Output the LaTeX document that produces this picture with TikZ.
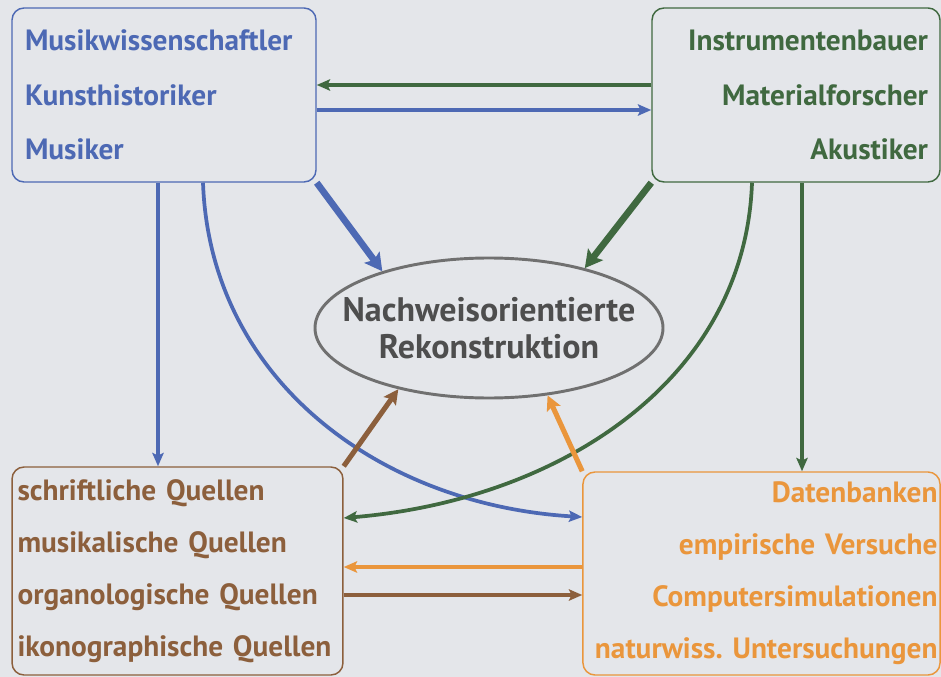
\documentclass[tikz,border=0pt]{standalone}
\usepackage{fontspec}
\setmainfont{PT Sans}[WordSpace=0.75]
\usetikzlibrary{shapes.geometric, arrows.meta, positioning, calc}
\definecolor{mublue}{RGB}{77,105,180}
\definecolor{mugreen}{RGB}{64,105,64}
\definecolor{mubrown}{RGB}{140,95,60}
\definecolor{muorange}{RGB}{234,150,60}
\definecolor{mugray}{RGB}{112,112,112}
\definecolor{mutext}{RGB}{78,78,78}
\definecolor{paper}{RGB}{228,230,234}
\frenchspacing

\begin{document}
\begin{tikzpicture}[x=0.75pt, y=-0.75pt,
      gruppe/.style={draw=#1, text=#1, rectangle, rounded corners=9pt,
                     line width=1.1pt, inner ysep=0pt,
                     font=\fontsize{22}{41}\selectfont\bfseries},
      ziel/.style={draw=mugray, ellipse, line width=2.2pt, text=mutext,
                   minimum width=261pt, minimum height=105pt,
                   inner xsep=-20pt, inner ysep=0pt, align=center,
                   font=\fontsize{25.5}{27.75}\selectfont\bfseries},
      pfeil/.style={line width=2.8pt, -{Stealth[length=10pt, width=8.5pt, inset=2pt]}},
      quellpfeil/.style={line width=3.8pt, -{Stealth[length=11pt, width=11pt, inset=2pt]}},
      hauptpfeil/.style={line width=5pt, -{Stealth[length=13pt, width=14pt, inset=2.5pt]}}
    ]
    % Hintergrund
    \fill[paper] (0,0) rectangle (941,677);
    \useasboundingbox (0,0) rectangle (941,677);

    % Akteure oben
    \node[gruppe=mublue, text width=208.5pt, inner xsep=9.75pt,
          minimum height=130.5pt, align=left] (forscher) at (164,95)
          {Musikwissenschaftler\\Kunsthistoriker\\Musiker};
    \node[gruppe=mugreen, text width=198pt, inner xsep=9pt,
          minimum height=130.5pt, align=right] (bauer) at (796,95)
          {Instrumentenbauer\\Materialforscher\\Akustiker};

    % Quellen und Methoden unten
    \node[gruppe=mubrown, text width=240pt, inner xsep=4.1pt,
          minimum height=156pt, align=left,
          font=\fontsize{22}{39}\selectfont\bfseries] (quellen) at (177.5,571)
          {schriftliche Quellen\\musikalische Quellen\\organologische Quellen\\ikonographische Quellen};
    \node[gruppe=muorange, text width=264pt, inner xsep=1.9pt,
          minimum height=152.25pt, align=right,
          font=\fontsize{22}{39}\selectfont\bfseries] (methoden) at (761.5,573.5)
          {Datenbanken\\empirische Versuche\\Computersimulationen\\naturwiss. Untersuchungen};

    % Ziel in der Mitte
    \node[ziel] (rekon) at (489,328) {Nachweisorientierte\\Rekonstruktion};

    % Verbindungen zwischen den Gruppen
    \draw[pfeil, mugreen] (bauer.west |- 0,85) -- (forscher.east |- 0,85);
    \draw[pfeil, mublue] (forscher.east |- 0,110) -- (bauer.west |- 0,110);
    \draw[pfeil, mublue] (forscher.south -| 158,0) -- (quellen.north -| 158,0);
    \draw[pfeil, mugreen] (bauer.south -| 802,0) -- (methoden.north -| 802,0);
    \draw[pfeil, muorange] (methoden.west |- 0,567) -- (quellen.east |- 0,567);
    \draw[pfeil, mubrown] (quellen.east |- 0,595) -- (methoden.west |- 0,595);

    % Kurven ueber Kreuz
    \draw[pfeil, mublue] (forscher.south -| 203,0)
          .. controls (210,380) and (380,505) .. (methoden.west |- 0,517);
    \draw[pfeil, mugreen] (bauer.south -| 752,0)
          .. controls (745,380) and (560,500) .. (quellen.east |- 0,518);

    % direkt zur Rekonstruktion
    \draw[hauptpfeil, mublue] (forscher.south east) -- (rekon.152);
    \draw[hauptpfeil, mugreen] (bauer.south west) -- (rekon.32.5);
    \draw[quellpfeil, mubrown] (quellen.north east) -- (rekon.214);
    \draw[quellpfeil, muorange] (methoden.north west) -- (rekon.311);
  \end{tikzpicture}
\end{document}
